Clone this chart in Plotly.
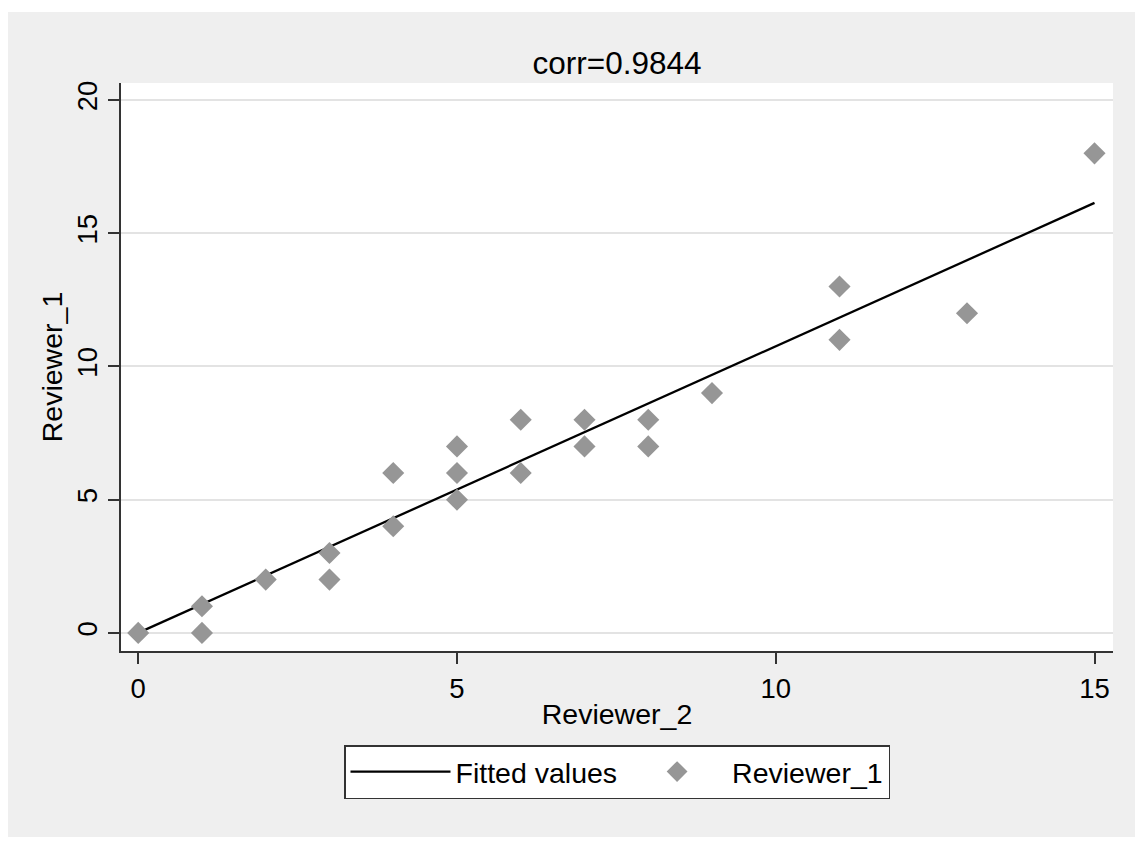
import plotly.graph_objects as go

# Data
reviewer_2 = [0, 1, 1, 2, 3, 3, 4, 4, 5, 5, 5, 6, 6, 7, 7, 8, 8, 9, 11, 11, 13, 15]
reviewer_1 = [0, 1, 0, 2, 3, 2, 6, 4, 7, 6, 5, 8, 6, 8, 7, 8, 7, 9, 13, 11, 12, 18]
fitted_x = [0, 15]
fitted_y = [0.0, 16.14]
x_ticks = [0, 5, 10, 15]
y_ticks = [0, 5, 10, 15, 20]
title_text = "corr=0.9844"

# the page body adds an 8px margin, so the figure is drawn 8px smaller
OFF = 8
W, H = 1143 - OFF, 843 - OFF
L, R, T, B = 121 - OFF, 1113 - OFF, 83 - OFF, 651 - OFF  # plot area pixel box


def px_x(px):
    return (px - L) / (R - L)


def px_y(py):
    return (B - py) / (B - T)


FONT = "Liberation Sans, Arial, sans-serif"
BG = "#efefef"

fig = go.Figure()
fig.add_trace(go.Scatter(
    x=fitted_x, y=fitted_y, mode="lines", name="Fitted values",
    line=dict(color="black", width=2.3),
))
fig.add_trace(go.Scatter(
    x=reviewer_2, y=reviewer_1, mode="markers", name="Reviewer_1",
    marker=dict(symbol="diamond", size=17, color="#969696", line=dict(width=0)),
))

# white border strips around the grey graph region (figure pixel coords)
strips = [
    (0, 0, W, 12 - OFF),
    (1142 - OFF, 0, W, H),
    (0, 837 - OFF, W, H),
]
shapes = []
for x0, y0, x1, y1 in strips:
    shapes.append(dict(type="rect", xref="paper", yref="paper",
                       x0=px_x(x0), x1=px_x(x1), y0=px_y(y1), y1=px_y(y0),
                       fillcolor="white", line=dict(width=0), layer="below"))

fig.update_layout(
    width=W, height=H,
    margin=dict(l=L, r=W - R, t=T, b=H - B, pad=0),
    paper_bgcolor=BG, plot_bgcolor="white",
    font=dict(family=FONT, size=28, color="black"),
    title=dict(text=title_text, x=0.5, xref="paper", xanchor="center",
               y=1 - (63 - OFF) / H, yref="container", yanchor="middle",
               font=dict(size=31.5, color="black")),
    showlegend=True,
    legend=dict(orientation="h", x=0.5, xanchor="center",
                y=px_y(745 - OFF), yanchor="top",
                bgcolor="white", bordercolor="#333", borderwidth=1.5,
                font=dict(size=28.5), itemwidth=100, traceorder="normal"),
    shapes=shapes,
)
fig.update_xaxes(
    range=[-0.27, 15.29], tickvals=x_ticks, ticks="outside", ticklen=11,
    tickwidth=1.5, tickcolor="#333", showline=True, linecolor="#333",
    linewidth=1.5, showgrid=False, zeroline=False, mirror=False,
    title=dict(text="Reviewer_2", font=dict(size=28.5), standoff=1),
    tickfont=dict(size=27.5), ticklabelstandoff=1,
)
fig.update_yaxes(
    range=[-0.68, 20.64], tickvals=y_ticks, ticks="outside", ticklen=11,
    tickwidth=1.5, tickcolor="#333", showline=True, linecolor="#333",
    linewidth=1.5, showgrid=True, gridcolor="#e3e3e3", gridwidth=1.5,
    zeroline=False, tickangle=-90,
    title=dict(text="Reviewer_1", font=dict(size=28.5), standoff=1),
    tickfont=dict(size=27.5), ticklabelstandoff=0,
)

fig.write_html("out.html")
